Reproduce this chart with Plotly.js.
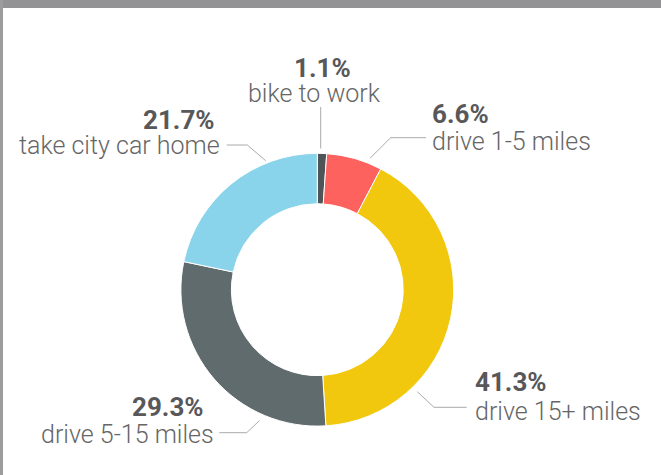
<!DOCTYPE html>
<html>
<head>
<meta charset="utf-8">
<script src="https://cdn.plot.ly/plotly-3.0.1.min.js"></script>
<style>
  html, body { margin: 0; padding: 0; background: #ffffff; }
  #chart { width: 661px; height: 475px; }
</style>
</head>
<body>
<div id="chart"></div>
<script>
// ---- data ----
const categories = ['bike to work', 'drive 1-5 miles', 'drive 15+ miles', 'drive 5-15 miles', 'take city car home'];
const shares = [1.1, 6.6, 41.3, 29.3, 21.7];
const sliceColors = ['#4f5557', '#fd625e', '#f2c80f', '#5f6b6d', '#8ad4eb'];

// ---- layout helpers (pixel -> paper) ----
const W = 661, H = 475;
const px = x => x / W;
const py = y => 1 - y / H;

// label placement for each category (pixels): percent text, label text, leader polyline
const placement = [
  { anchor: 'center', pctX: 322, pctBase: 76.7, lblX: 314.5, lblBase: 101.7, line: [[320.7, 107], [320.7, 148.5]] },
  { anchor: 'left', pctX: 430.5, pctBase: 123.3, lblX: 430.5, lblBase: 150, line: [[370, 158.3], [390.7, 137.7], [426, 137.7]] },
  { anchor: 'left', pctX: 474, pctBase: 391, lblX: 474, lblBase: 420, line: [[417.3, 391.7], [434, 407.3], [466.7, 407.3]] },
  { anchor: 'right', pctX: 204.5, pctBase: 415.7, lblX: 214.5, lblBase: 443.3, line: [[219.3, 432.7], [246.7, 432.7], [259.3, 420.7]] },
  { anchor: 'right', pctX: 216, pctBase: 129.3, lblX: 221, lblBase: 154, line: [[226.7, 145], [247.3, 145], [265.7, 160.7]] }
];

const pctSize = 26, lblSize = 25;
const annotations = [];
const shapes = [];

categories.forEach((cat, i) => {
  const p = placement[i];
  annotations.push({
    xref: 'paper', yref: 'paper', showarrow: false, borderpad: 0,
    x: px(p.pctX), y: py(p.pctBase - 0.34 * pctSize),
    xanchor: p.anchor, yanchor: 'middle',
    text: shares[i].toFixed(1) + '%',
    font: { family: 'Roboto', size: pctSize, weight: 700, color: '#58585a' }
  });
  annotations.push({
    xref: 'paper', yref: 'paper', showarrow: false, borderpad: 0,
    x: px(p.lblX), y: py(p.lblBase - 0.34 * lblSize),
    xanchor: p.anchor, yanchor: 'middle',
    text: cat,
    font: { family: 'Roboto', size: lblSize, weight: 300, color: '#666666' }
  });
  const d = p.line.map((pt, k) => (k === 0 ? 'M' : 'L') + px(pt[0]) + ',' + py(pt[1])).join(' ');
  shapes.push({
    type: 'path', xref: 'paper', yref: 'paper', path: d,
    line: { color: '#aaaaaa', width: 1 }
  });
});

// frame: grey band at top, grey rule at left
shapes.push({ type: 'rect', xref: 'paper', yref: 'paper', x0: 0, x1: 1, y0: py(8), y1: 1, fillcolor: '#939396', line: { width: 0 } });
shapes.push({ type: 'rect', xref: 'paper', yref: 'paper', x0: 0, x1: px(3), y0: 0, y1: 1, fillcolor: '#9c9c9f', line: { width: 0 } });

// donut geometry
const cx = 317.3, cy = 289.7, R = 136.4;

const trace = {
  type: 'pie',
  labels: categories,
  values: shares,
  sort: false,
  direction: 'clockwise',
  rotation: 0,
  hole: 0.63,
  textinfo: 'none',
  hoverinfo: 'none',
  marker: { colors: sliceColors, line: { color: '#ffffff', width: 1 } },
  domain: { x: [px(cx - R), px(cx + R)], y: [py(cy + R), py(cy - R)] }
};

const layout = {
  width: W, height: H,
  margin: { l: 0, r: 0, t: 0, b: 0, pad: 0 },
  paper_bgcolor: '#ffffff',
  showlegend: false,
  annotations: annotations,
  shapes: shapes
};

Plotly.newPlot('chart', [trace], layout, { displayModeBar: false, staticPlot: true });
</script>
</body>
</html>
